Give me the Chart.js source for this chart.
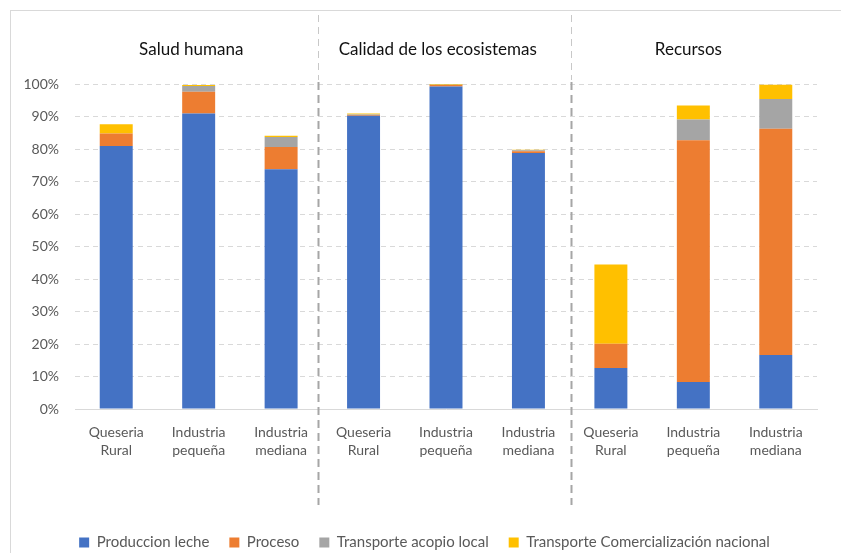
<!DOCTYPE html>
<html>
<head>
<meta charset="utf-8">
<script src="https://cdn.jsdelivr.net/npm/chart.js@4"></script>
<style>
    body { margin: 0; background: #fff; overflow: hidden; }
    #wrap { position: relative; width: 841px; height: 553px; overflow: hidden; }
    #frame { position: absolute; left: 10px; top: 10px; width: 900px; height: 700px; border: 1px solid #d9d9d9; }
    #impactChart { position: absolute; left: 0; top: 0; }
</style>
</head>
<body>
<div id="wrap">
    <div id="frame"></div>
    <canvas id="impactChart" width="841" height="553"></canvas>
</div>
<script>
const impactChart = document.getElementById('impactChart');

// categorias (3 por grupo de impacto)
const categories = [
    ['Queseria', 'Rural'], ['Industria', 'pequeña'], ['Industria', 'mediana'],
    ['Queseria', 'Rural'], ['Industria', 'pequeña'], ['Industria', 'mediana'],
    ['Queseria', 'Rural'], ['Industria', 'pequeña'], ['Industria', 'mediana'],
];
const groups = ['Salud humana', 'Calidad de los ecosistemas', 'Recursos'];
const groupCenters = [0.91, 3.9, 6.94];   // posicion sobre el eje de categorias
const separators = [2.45, 5.52];

// valores en %
const produccionLeche = [80.9, 90.9, 73.8, 90.2, 99.2, 78.8, 12.6, 8.3, 16.6];
const proceso = [3.9, 6.7, 6.8, 0.3, 0.5, 0.5, 7.5, 74.4, 69.6];
const transporteAcopio = [0, 1.8, 3.1, 0.1, 0.1, 0.3, 0, 6.4, 9.2];
const transporteComercial = [2.8, 0.3, 0.4, 0.3, 0.2, 0.2, 24.4, 4.3, 4.4];

const yTicks = [0, 10, 20, 30, 40, 50, 60, 70, 80, 90, 100];

const FONT = 'Lato, "Open Sans", sans-serif';
const textColor = '#595959';

const groupPlugin = {
    id: 'groupPlugin',
    beforeDatasetsDraw(chart) {
        const ctx = chart.ctx;
        const x = chart.scales.x;
        const area = chart.chartArea;
        ctx.save();
        separators.forEach((s) => {
            const px = Math.round(x.getPixelForValue(s)) + 0.5;
            // parte de arriba, mas fina
            ctx.strokeStyle = '#c8c8c8';
            ctx.lineWidth = 1;
            ctx.setLineDash([7, 5]);
            ctx.beginPath();
            ctx.moveTo(px, 15);
            ctx.lineTo(px, area.top - 4);
            ctx.stroke();
            ctx.strokeStyle = '#a6a6a6';
            ctx.lineWidth = 2;
            ctx.setLineDash([8, 5]);
            ctx.beginPath();
            ctx.moveTo(px, area.top - 2);
            ctx.lineTo(px, 505);
            ctx.stroke();
        });
        ctx.restore();
    },
    afterDraw(chart) {
        const ctx = chart.ctx;
        const x = chart.scales.x;
        ctx.save();
        ctx.font = '17px ' + FONT;
        ctx.fillStyle = '#111';
        ctx.textAlign = 'center';
        ctx.textBaseline = 'middle';
        groups.forEach((g, i) => {
            ctx.fillText(g, x.getPixelForValue(groupCenters[i]), 50);
        });
        ctx.restore();
    },
};

function ImpactChart(labels) {
    new Chart(impactChart, {
        type: 'bar',
        data: {
            labels: labels,
            datasets: [
                { label: 'Produccion leche', data: produccionLeche, backgroundColor: '#4472C4' },
                { label: 'Proceso', data: proceso, backgroundColor: '#ED7D31' },
                { label: 'Transporte acopio local', data: transporteAcopio, backgroundColor: '#A5A5A5' },
                { label: 'Transporte Comercialización nacional', data: transporteComercial, backgroundColor: '#FFC000' },
            ],
        },
        options: {
            responsive: false,
            animation: false,
            datasets: {
                bar: { barPercentage: 0.8, categoryPercentage: 0.5, borderWidth: 0 },
            },
            layout: {
                padding: { left: 10, right: 2, top: 84, bottom: -7 },
            },
            plugins: {
                tooltip: { enabled: false },
                legend: {
                    position: 'bottom',
                    labels: {
                        boxWidth: 10,
                        boxHeight: 10,
                        padding: 20,
                        color: textColor,
                        font: { family: FONT, size: 15 },
                    },
                },
            },
            scales: {
                x: {
                    stacked: true,
                    grid: { display: false },
                    border: { display: true, color: '#d9d9d9' },
                    ticks: {
                        color: textColor,
                        font: { family: FONT, size: 14, lineHeight: 1.3 },
                        padding: 6,
                        maxRotation: 0,
                        minRotation: 0,
                        autoSkip: false,
                    },
                    afterFit: (s) => { s.height = 106; },
                },
                y: {
                    stacked: true,
                    min: 0,
                    max: 100,
                    afterBuildTicks: (s) => { s.ticks = yTicks.map((v) => ({ value: v })); },
                    grid: {
                        color: (c) => (c.tick && c.tick.value === 0 ? 'transparent' : '#d9d9d9'),
                        drawTicks: false,
                    },
                    border: { display: false, dash: [5, 4] },
                    ticks: {
                        color: textColor,
                        font: { family: FONT, size: 14 },
                        padding: 16,
                        callback: (v) => v + '%',
                    },
                    afterFit: (s) => { s.width = 65; },
                },
                // eje vacio a la derecha, solo para dejar el margen
                yRight: {
                    position: 'right',
                    min: 0,
                    max: 100,
                    grid: { display: false },
                    border: { display: false },
                    ticks: { display: false },
                    afterFit: (s) => { s.width = 22; },
                },
            },
        },
        plugins: [groupPlugin],
    });
}

ImpactChart(categories);
</script>
</body>
</html>
